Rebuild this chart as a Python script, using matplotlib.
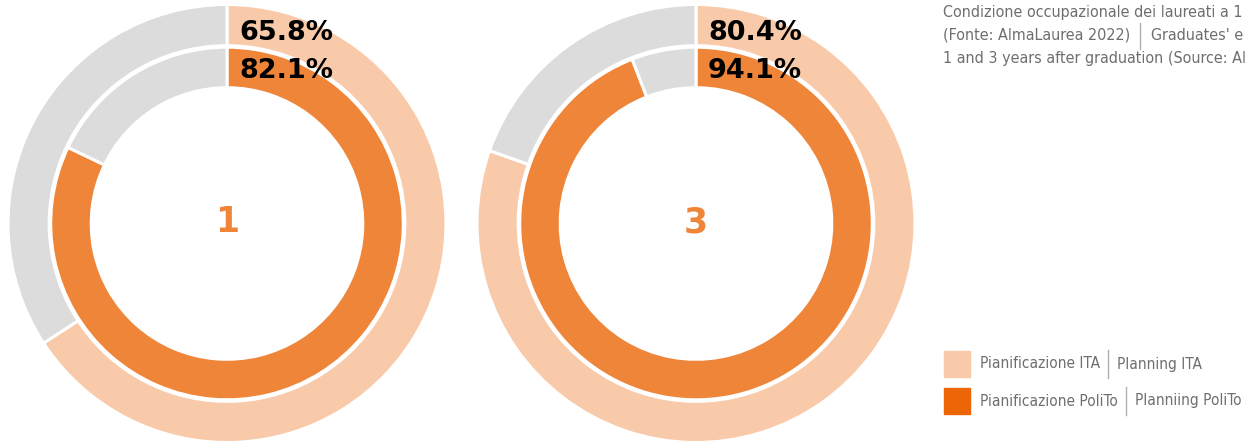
import matplotlib
matplotlib.use("Agg")
import matplotlib.pyplot as plt
from matplotlib import font_manager
from matplotlib.font_manager import FontProperties
from matplotlib.lines import Line2D

# ---- data ----
years = ["1", "3"]
ita_pct = [65.8, 80.4]       # outer ring: Pianificazione ITA
polito_pct = [82.1, 94.1]    # inner ring: Pianificazione PoliTo
title_lines = [
    ["Condizione occupazionale dei laureati a 1"],
    ["(Fonte: AlmaLaurea 2022)", "Graduates' e"],
    ["1 and 3 years after graduation (Source: Al"],
]
legend_labels = [["Pianificazione ITA", "Planning ITA"],
                 ["Pianificazione PoliTo", "Planniing PoliTo"]]

C_LIGHT = "#f9caa9"
C_ORANGE = "#ef8539"
C_LEG_ORANGE = "#ec6608"
C_GRAY = "#dcdcdc"
C_TEXT = "#6d6e70"

W, H = 1248, 443
fig = plt.figure(figsize=(W / 100, H / 100), dpi=100)

# look for a condensed/narrow sans face
cond = None
for f in font_manager.fontManager.ttflist:
    nm = (f.name + " " + f.fname).lower()
    if ("narrow" in nm or "condensed" in nm or f.stretch in ("condensed", "semi-condensed")) \
            and "bold" not in f.fname.lower() and "italic" not in f.fname.lower() \
            and "oblique" not in f.fname.lower() and f.weight in (400, "normal", "regular"):
        cond = f.fname
        break
if cond:
    base_fp = FontProperties(fname=cond)
else:
    base_fp = FontProperties(family="Liberation Sans")

R = 219
centers = [(227, 223.5), (696, 223.5)]
for (cx, cy), yr, ita, pol in zip(centers, years, ita_pct, polito_pct):
    ax = fig.add_axes([(cx - R) / W, (H - cy - R) / H, 2 * R / W, 2 * R / H])
    ax.pie([ita, 100 - ita], colors=[C_LIGHT, C_GRAY], startangle=90,
           counterclock=False, radius=1.0,
           wedgeprops=dict(width=0.188, edgecolor="white", linewidth=2.2))
    ax.pie([pol, 100 - pol], colors=[C_ORANGE, C_GRAY], startangle=90,
           counterclock=False, radius=0.805,
           wedgeprops=dict(width=0.185, edgecolor="white", linewidth=2.2))
    ax.set_xlim(-1, 1)
    ax.set_ylim(-1, 1)
    ax.set_aspect("equal")
    ax.axis("off")
    ax.text(0, 0.005, yr, ha="center", va="center", fontsize=25,
            fontweight="bold", color=C_ORANGE, family="DejaVu Sans")
    ax.text(0.055, 0.872, f"{ita}%", ha="left", va="center", fontsize=19.5,
            fontweight="heavy", color="black", family="DejaVu Sans")
    ax.text(0.055, 0.698, f"{pol}%", ha="left", va="center", fontsize=19.5,
            fontweight="heavy", color="black", family="DejaVu Sans")

fig.canvas.draw()
renderer = fig.canvas.get_renderer()


def fit_size(text, target_px, fp):
    probe = fig.text(0, 0, text, fontproperties=fp, fontsize=10)
    w = probe.get_window_extent(renderer).width
    probe.remove()
    return 10 * target_px / w


def seg_line(x0_px, y_px, parts, fs, sep_h, gap):
    x = x0_px
    for i, p in enumerate(parts):
        if i > 0:
            x += gap
            fig.add_artist(Line2D([x / W, x / W],
                                  [(H - y_px - sep_h / 2) / H, (H - y_px + sep_h / 2) / H],
                                  color="#b0b0b0", linewidth=1))
            x += gap + 1
        t = fig.text(x / W, (H - y_px) / H, p, fontproperties=base_fp, fontsize=fs,
                     color=C_TEXT, ha="left", va="center")
        x += t.get_window_extent(renderer).width


title_fs = min(fit_size(title_lines[0][0], 302, base_fp), 13.5)
for i, parts in enumerate(title_lines):
    seg_line(943, 12 + i * 23.5, parts, title_fs, 26, 10)

leg_fs = min(fit_size(legend_labels[0][0], 120, base_fp), 12.5)
for i, (parts, col) in enumerate(zip(legend_labels, [C_LIGHT, C_LEG_ORANGE])):
    yc = 364 + i * 37
    fig.add_artist(plt.Rectangle((944 / W, (H - yc - 13) / H), 26 / W, 26 / H,
                                 color=col, transform=fig.transFigure))
    seg_line(980, yc, parts, leg_fs, 28, 8)

fig.savefig("out.png", dpi=100)
